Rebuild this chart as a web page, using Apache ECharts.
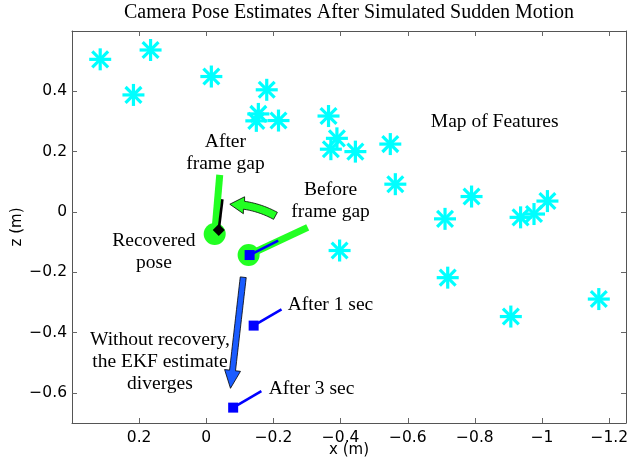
<!DOCTYPE html>
<html><head><meta charset="utf-8">
<script src="https://cdn.jsdelivr.net/npm/echarts@6/dist/echarts.min.js"></script>
<style>html,body{margin:0;padding:0;background:#fff}#c{width:636px;height:466px}</style>
</head><body><div id="c"></div>
<script>
// ---- data ----
const xTicks = [0.2, 0, -0.2, -0.4, -0.6, -0.8, -1, -1.2];
const zTicks = [-0.6, -0.4, -0.2, 0, 0.2, 0.4];

// Map of features (cyan asterisks)
const featureX = [0.316, 0.166, 0.217, -0.015, -0.180, -0.149, -0.155, -0.215, -0.364, -0.389, -0.371, -0.444, -0.548, -0.563, -0.790, -0.711, -0.936, -0.976, -1.016, -0.719, -0.907, -1.169, -0.397];
const featureZ = [0.506, 0.537, 0.388, 0.449, 0.405, 0.302, 0.325, 0.303, 0.318, 0.244, 0.208, 0.200, 0.225, 0.092, 0.051, -0.023, -0.018, -0.007, 0.036, -0.218, -0.347, -0.289, -0.128];

// Camera poses (green): before frame gap, recovered
const poseX = [-0.126, -0.025];
const poseZ = [-0.143, -0.073];
const poseHeadX = [-0.302, -0.040];
const poseHeadZ = [-0.051, 0.123];

// EKF estimates (blue): at frame gap, after 1 sec, after 3 sec
const ekfX = [-0.129, -0.141, -0.080];
const ekfZ = [-0.143, -0.377, -0.649];
const ekfHeadX = [-0.214, -0.224, -0.164];
const ekfHeadZ = [-0.095, -0.323, -0.594];

// Recovered estimate (black)
const recX = [-0.037];
const recZ = [-0.060];
const recHeadX = [-0.048];
const recHeadZ = [0.042];

// Arrows: [tail, tip]
const recoveryArrowX = [-0.206, -0.070];
const recoveryArrowZ = [-0.013, 0.0255];
const divergeArrowX = [-0.110, -0.072];
const divergeArrowZ = [-0.2166, -0.585];

// Annotations
const noteText = ['After\nframe gap', 'Before\nframe gap', 'Recovered\npose', 'Map of Features', 'After 1 sec', 'After 3 sec', 'Without recovery,\nthe EKF estimate\ndiverges'];
const noteX = [-0.057, -0.370, 0.156, -0.859, -0.2425, -0.186, 0.138];
const noteZ = [0.197, 0.036, -0.134, 0.2995, -0.3085, -0.588, -0.498];

// ---- styles ----
const CYAN = '#00ffff', GREEN = '#22ff22', BLUE = '#0000ff', ARROWBLUE = '#1a5cff';
const noteAlign = ['center', 'center', 'center', 'center', 'left', 'left', 'center'];
const SERIF = 'Liberation Serif, Times New Roman, serif';
const SANS = 'DejaVu Sans, sans-serif';

function zip(a, b, c, d) { return a.map((v, i) => d ? [v, b[i], c[i], d[i]] : [v, b[i]]); }

function fmt(v) { return v < 0 ? '\u2212' + String(Math.abs(v)) : String(v); }

function renderStar(params, api) {
  const c = api.coord([api.value(0), api.value(1)]);
  const r = 11, d = r * 0.72;
  const st = { stroke: CYAN, lineWidth: 3.2 };
  return { type: 'group', children: [
    { type: 'line', shape: { x1: c[0] - r, y1: c[1], x2: c[0] + r, y2: c[1] }, style: st },
    { type: 'line', shape: { x1: c[0], y1: c[1] - r, x2: c[0], y2: c[1] + r }, style: st },
    { type: 'line', shape: { x1: c[0] - d, y1: c[1] - d, x2: c[0] + d, y2: c[1] + d }, style: st },
    { type: 'line', shape: { x1: c[0] - d, y1: c[1] + d, x2: c[0] + d, y2: c[1] - d }, style: st }
  ] };
}

function renderPose(params, api) {
  const c = api.coord([api.value(0), api.value(1)]);
  const e = api.coord([api.value(2), api.value(3)]);
  return { type: 'group', children: [
    { type: 'line', shape: { x1: c[0], y1: c[1], x2: e[0], y2: e[1] }, style: { stroke: GREEN, lineWidth: 7 } },
    { type: 'circle', shape: { cx: c[0], cy: c[1], r: 11 }, style: { fill: GREEN } }
  ] };
}

function renderEkf(params, api) {
  const c = api.coord([api.value(0), api.value(1)]);
  const e = api.coord([api.value(2), api.value(3)]);
  const s = 10;
  return { type: 'group', children: [
    { type: 'line', shape: { x1: c[0], y1: c[1], x2: e[0], y2: e[1] }, style: { stroke: BLUE, lineWidth: 2.6 } },
    { type: 'rect', shape: { x: c[0] - s / 2, y: c[1] - s / 2, width: s, height: s }, style: { fill: BLUE } }
  ] };
}

function renderRec(params, api) {
  const c = api.coord([api.value(0), api.value(1)]);
  const e = api.coord([api.value(2), api.value(3)]);
  const h = 6;
  return { type: 'group', children: [
    { type: 'line', shape: { x1: c[0], y1: c[1], x2: e[0], y2: e[1] }, style: { stroke: '#000', lineWidth: 2.6 } },
    { type: 'polygon', shape: { points: [[c[0], c[1] - h], [c[0] + h, c[1]], [c[0], c[1] + h], [c[0] - h, c[1]]] }, style: { fill: '#000' } }
  ] };
}

function arrowPoints(p0, p2, bulge, shaftW, headW, headL) {
  const dx = p2[0] - p0[0], dy = p2[1] - p0[1];
  const L = Math.hypot(dx, dy);
  const nx = -dy / L, ny = dx / L;
  const C = [(p0[0] + p2[0]) / 2 + nx * bulge, (p0[1] + p2[1]) / 2 + ny * bulge];
  const Q = t => [(1 - t) * (1 - t) * p0[0] + 2 * (1 - t) * t * C[0] + t * t * p2[0],
                  (1 - t) * (1 - t) * p0[1] + 2 * (1 - t) * t * C[1] + t * t * p2[1]];
  const D = t => [2 * (1 - t) * (C[0] - p0[0]) + 2 * t * (p2[0] - C[0]),
                  2 * (1 - t) * (C[1] - p0[1]) + 2 * t * (p2[1] - C[1])];
  const tb = 1 - headL / L;
  const left = [], right = [];
  const N = 20;
  for (let i = 0; i <= N; i++) {
    const t = tb * i / N;
    const q = Q(t), d = D(t);
    const dl = Math.hypot(d[0], d[1]);
    const n = [-d[1] / dl, d[0] / dl];
    left.push([q[0] + n[0] * shaftW / 2, q[1] + n[1] * shaftW / 2]);
    right.push([q[0] - n[0] * shaftW / 2, q[1] - n[1] * shaftW / 2]);
  }
  const base = Q(tb);
  const ax = p2[0] - base[0], ay = p2[1] - base[1];
  const al = Math.hypot(ax, ay);
  const hn = [-ay / al, ax / al];
  return left.concat([
    [base[0] + hn[0] * headW / 2, base[1] + hn[1] * headW / 2],
    [p2[0], p2[1]],
    [base[0] - hn[0] * headW / 2, base[1] - hn[1] * headW / 2]
  ], right.reverse());
}

function makeArrowRender(fill, bulge, shaftW, headW, headL) {
  return function (params, api) {
    const a = api.coord([api.value(0), api.value(1)]);
    const b = api.coord([api.value(2), api.value(3)]);
    return { type: 'polygon', shape: { points: arrowPoints(a, b, bulge, shaftW, headW, headL) },
      style: { fill: fill, stroke: '#000', lineWidth: 0.8 } };
  };
}

function renderNote(params, api) {
  const c = api.coord([api.value(0), api.value(1)]);
  const i = params.dataIndex;
  return { type: 'text', x: c[0], y: c[1], style: {
    text: noteText[i], fill: '#000', font: '19.5px ' + SERIF, lineHeight: 22,
    align: noteAlign[i], verticalAlign: 'middle' } };
}

const axisLineStyle = { show: true, onZero: false, lineStyle: { color: '#555', width: 1 } };
const tickStyle = { show: true, inside: true, length: 5, lineStyle: { color: '#666' } };

const chart = echarts.init(document.getElementById('c'), null, { renderer: 'canvas' });
chart.setOption({
  animation: false,
  backgroundColor: '#fff',
  title: {
    text: 'Camera Pose Estimates After Simulated Sudden Motion',
    left: 349, top: 3, textAlign: 'center', padding: 0,
    textStyle: { fontFamily: SERIF, fontSize: 20, fontWeight: 'normal', color: '#000' }
  },
  grid: { left: 72, right: 10, top: 31, bottom: 43, containLabel: false, outerBoundsMode: 'none' },
  xAxis: [{
    type: 'value', min: -1.25, max: 0.4, inverse: true, position: 'bottom',
    name: 'x (m)', nameLocation: 'middle', nameGap: 20, nameMoveOverlap: false,
    nameTextStyle: { fontFamily: SANS, fontSize: 15, color: '#000', verticalAlign: 'top' },
    axisLine: axisLineStyle, splitLine: { show: false },
    axisTick: Object.assign({ customValues: xTicks }, tickStyle),
    axisLabel: { customValues: xTicks, formatter: fmt, fontFamily: SANS, fontSize: 15.5, color: '#000', margin: 7 }
  }, {
    type: 'value', min: -1.25, max: 0.4, inverse: true, position: 'top',
    axisLine: axisLineStyle, splitLine: { show: false },
    axisTick: Object.assign({ customValues: xTicks }, tickStyle),
    axisLabel: { show: false }
  }],
  yAxis: [{
    type: 'value', min: -0.7, max: 0.6, position: 'left',
    name: 'z (m)', nameLocation: 'middle', nameGap: 47, nameRotate: 90, nameMoveOverlap: false,
    nameTextStyle: { fontFamily: SANS, fontSize: 15, color: '#000' },
    axisLine: axisLineStyle, splitLine: { show: false },
    axisTick: Object.assign({ customValues: zTicks }, tickStyle),
    axisLabel: { customValues: zTicks, formatter: fmt, fontFamily: SANS, fontSize: 15.5, color: '#000', margin: 5 }
  }, {
    type: 'value', min: -0.7, max: 0.6, position: 'right',
    axisLine: axisLineStyle, splitLine: { show: false },
    axisTick: Object.assign({ customValues: zTicks }, tickStyle),
    axisLabel: { show: false }
  }],
  series: [
    { type: 'custom', name: 'features', renderItem: renderStar, data: zip(featureX, featureZ), clip: false, silent: true },
    { type: 'custom', name: 'poses', renderItem: renderPose, data: zip(poseX, poseZ, poseHeadX, poseHeadZ), clip: false, silent: true },
    { type: 'custom', name: 'recovered', renderItem: renderRec, data: zip(recX, recZ, recHeadX, recHeadZ), clip: false, silent: true },
    { type: 'custom', name: 'ekf', renderItem: renderEkf, data: zip(ekfX, ekfZ, ekfHeadX, ekfHeadZ), clip: false, silent: true },
    { type: 'custom', name: 'recoveryArrow', renderItem: makeArrowRender(GREEN, 6, 8, 17, 14),
      data: [[recoveryArrowX[0], recoveryArrowZ[0], recoveryArrowX[1], recoveryArrowZ[1]]], clip: false, silent: true },
    { type: 'custom', name: 'divergeArrow', renderItem: makeArrowRender(ARROWBLUE, 0, 6, 16, 18),
      data: [[divergeArrowX[0], divergeArrowZ[0], divergeArrowX[1], divergeArrowZ[1]]], clip: false, silent: true },
    { type: 'custom', name: 'notes', renderItem: renderNote, data: zip(noteX, noteZ), clip: false, silent: true }
  ]
});
</script>
</body></html>
